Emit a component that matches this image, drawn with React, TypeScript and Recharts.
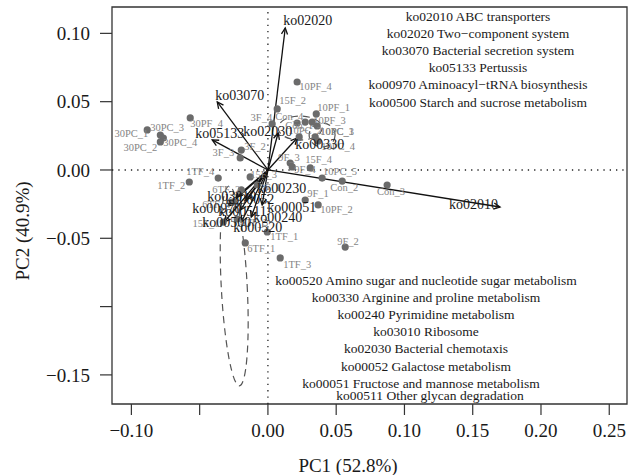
import React from 'react';
import {
  ScatterChart,
  Scatter,
  XAxis,
  YAxis,
  ReferenceLine,
  ReferenceArea,
  Customized,
} from 'recharts';

const FONT = '"Liberation Serif", "DejaVu Serif", serif';

// ---------- data ----------
const sampleNames = [
  '30PC_3', '30PC_1', '30PC_4', '30PC_2', '30PF_4', '1TF_2', '1TF_4', '3F_3', '3F_2',
  '10PF_4', '15F_2', '3F_4', 'Con_4', 'Con_1', '10PF_1', '10PF_3', '10PC_3', '10PC_2',
  '10PC_1', '10PC_4', '15F_4', '10PC_5', 'Con_2', 'Con_3', '9F_1', '10PF_2', '9F_2',
  '1TF_1', '6TF_1', '1TF_3', '6TF_2', '15F_1', '6TF_3', '6TF_4', '15F_3', '3F_1', '9F_3', '9F_4',
];
const sampleX = [
  -0.0884, -0.0788, -0.0766, -0.0788, -0.0569, -0.0576, -0.0364, -0.0203, -0.0195,
  0.0214, 0.0068, 0.0031, 0.0214, 0.0273, 0.0354, 0.0324, 0.0361, 0.0229,
  0.0346, 0.0368, 0.031, 0.0397, 0.0544, 0.0873, 0.0273, 0.0368, 0.0566,
  -0.0005, -0.0166, 0.009, -0.0195, -0.0327, -0.0225, -0.0254, -0.013, -0.0078, 0.0163, 0.0178,
];
const sampleY = [
  0.0293, 0.0256, 0.0234, 0.0205, 0.0381, -0.0088, -0.0059, 0.0088, 0.0146,
  0.0644, 0.0447, 0.0337, 0.0344, 0.0351, 0.041, 0.0351, 0.0322, 0.0242,
  0.0242, 0.0212, 0.0015, -0.0059, -0.0081, -0.011, -0.022, -0.0256, -0.0564,
  -0.0454, -0.0534, -0.0644, -0.0146, -0.0381, -0.0359, -0.0234, -0.0051, -0.011, 0.0051, 0.0022,
];

const loadingNames = [
  'ko02020', 'ko02010', 'ko03070', 'ko05133', 'ko02030', 'ko00330', 'ko00230', 'ko03010',
  'ko00052', 'ko00970', 'ko00511', 'ko00051', 'ko00500', 'ko00240', 'ko00520',
];
const loadingX = [
  0.0127, 0.17, -0.0371, -0.0408, 0.0075, 0.0214, -0.0086, -0.0232,
  -0.0159, -0.0291, -0.0203, -0.0042, -0.032, -0.0122, -0.0195,
];
const loadingY = [
  0.104, -0.0271, 0.0498, 0.022, 0.0271, 0.0234, -0.0117, -0.0198,
  -0.022, -0.0264, -0.0293, -0.0256, -0.0381, -0.0344, -0.0381,
];

const ellipseCx = [-0.0247, 0.0236, 0.0397];
const ellipseCy = [-0.0849, 0.0307, 0.0256];
const ellipseRx = [0.0095, 0.0161, 0.0095];
const ellipseRy = [0.0732, 0.0088, 0.0088];
const ellipseAngle = [-3, 0, 0];

const xTicks = [-0.1, -0.05, 0, 0.05, 0.1, 0.15, 0.2, 0.25];
const xTickLabels = ['\u22120.10', '', '0.00', '0.05', '0.10', '0.15', '0.20', '0.25'];
const yTicks = [-0.15, -0.1, -0.05, 0, 0.05, 0.1];
const yTickLabels = ['\u22120.15', '', '\u22120.05', '0.00', '0.05', '0.10'];

const topLegend = [
  'ko02010 ABC transporters',
  'ko02020 Two\u2212component system',
  'ko03070 Bacterial secretion system',
  'ko05133 Pertussis',
  'ko00970 Aminoacyl\u2212tRNA biosynthesis',
  'ko00500 Starch and sucrose metabolism',
];
const bottomLegend = [
  'ko00520 Amino sugar and nucleotide sugar metabolism',
  'ko00330 Arginine and proline metabolism',
  'ko00240 Pyrimidine metabolism',
  'ko03010 Ribosome',
  'ko02030 Bacterial chemotaxis',
  'ko00052 Galactose metabolism',
  'ko00051 Fructose and mannose metabolism',
  'ko00511 Other glycan degradation',
];

const xLabel = 'PC1 (52.8%)';
const yLabel = 'PC2 (40.9%)';

// ---------- layout (not data) ----------
const W = 629;
const H = 475;
const MARGIN = { top: 7, right: 2, bottom: 31, left: 0 };
const Y_AXIS_W = 112;
const X_AXIS_H = 40;
const X_DOMAIN: [number, number] = [-0.1142, 0.263];
const Y_DOMAIN: [number, number] = [-0.1713, 0.1193];
const PLOT_W = W - MARGIN.left - MARGIN.right - Y_AXIS_W;
const PLOT_H = H - MARGIN.top - MARGIN.bottom - X_AXIS_H;
const PX_X = PLOT_W / (X_DOMAIN[1] - X_DOMAIN[0]);
const PX_Y = PLOT_H / (Y_DOMAIN[1] - Y_DOMAIN[0]);

const sampleLabelPos: Record<string, [number, number, string]> = {
  '30PC_3': [3, -2, 'start'],
  '30PC_1': [-12, -2, 'end'],
  '30PC_4': [0, 4, 'start'],
  '30PC_2': [-3, 6, 'end'],
  '30PF_4': [0, 6, 'start'],
  '1TF_2': [-4, 3, 'end'],
  '1TF_4': [-4, -7, 'end'],
  '3F_3': [-6, -5, 'end'],
  '3F_2': [3, -4, 'start'],
  '10PF_4': [2, 4, 'start'],
  '15F_2': [2, -8, 'start'],
  '3F_4': [0, -6, 'end'],
  'Con_4': [-22, -6, 'start'],
  'Con_1': [-20, 3, 'start'],
  '10PF_1': [1, -6, 'start'],
  '10PF_3': [1, -2, 'start'],
  '10PC_3': [3, 6, 'start'],
  '10PC_2': [-11, -6, 'start'],
  '10PC_1': [5, -5, 'start'],
  '10PC_4': [3, 5, 'start'],
  '15F_4': [-5, -8, 'start'],
  '10PC_5': [1, -7, 'start'],
  'Con_2': [-12, 6, 'start'],
  'Con_3': [-10, 6, 'start'],
  '9F_1': [2, -7, 'start'],
  '10PF_2': [2, 5, 'start'],
  '9F_2': [-8, -6, 'start'],
  '1TF_1': [3, 4, 'start'],
  '6TF_1': [2, 6, 'start'],
  '1TF_3': [3, 7, 'start'],
  '6TF_2': [-1, 0, 'end'],
  '15F_1': [-4, 1, 'end'],
  '6TF_3': [3, 3, 'start'],
  '6TF_4': [-3, 3, 'end'],
  '15F_3': [0, -2, 'start'],
  '3F_1': [2, 2, 'start'],
  '9F_3': [-12, -6, 'start'],
  '9F_4': [2, 3, 'start'],
};

const loadingLabelPos: Record<string, [number, number, string]> = {
  ko02020: [-2, -7, 'start'],
  ko02010: [-2, -3, 'end'],
  ko03070: [-2, -6, 'start'],
  ko05133: [-17, -6, 'start'],
  ko02030: [-35, -1, 'start'],
  ko00330: [-2, 6, 'start'],
  ko00230: [1, 3, 'start'],
  ko03010: [-29, -1, 'start'],
  ko00052: [-21, -1, 'start'],
  ko00970: [-36, 2, 'start'],
  ko00511: [-22, 1, 'start'],
  ko00051: [5, 3, 'start'],
  ko00500: [-22, 0, 'start'],
  ko00240: [2, 1, 'start'],
  ko00520: [-8, 5, 'start'],
};

const samples = sampleNames.map((name, i) => ({ name, x: sampleX[i], y: sampleY[i] }));
const loadings = loadingNames.map((name, i) => ({ name, x: loadingX[i], y: loadingY[i] }));
const ellipses = ellipseCx.map((cx, i) => ({
  x: cx,
  y: ellipseCy[i],
  rx: ellipseRx[i],
  ry: ellipseRy[i],
  angle: ellipseAngle[i],
}));

const SampleShape = (props: any) => {
  const { cx, cy, payload } = props;
  if (cx == null || cy == null) return null;
  const pos = sampleLabelPos[payload.name] || [3, 3, 'start'];
  return (
    <g>
      <circle cx={cx} cy={cy} r={3.6} fill="#6b6b6b" />
      <text
        x={cx + pos[0]}
        y={cy + pos[1]}
        textAnchor={pos[2] as any}
        dominantBaseline="central"
        fontFamily={FONT}
        fontSize={10.5}
        fill="#858585"
      >
        {payload.name}
      </text>
    </g>
  );
};

const LoadingLabelShape = (props: any) => {
  const { cx, cy, payload } = props;
  if (cx == null || cy == null) return null;
  const pos = loadingLabelPos[payload.name] || [2, 0, 'start'];
  return (
    <text
      x={cx + pos[0]}
      y={cy + pos[1]}
      textAnchor={pos[2] as any}
      dominantBaseline="central"
      fontFamily={FONT}
      fontSize={14}
      fill="#1a1a1a"
    >
      {payload.name}
    </text>
  );
};

const EllipseShape = (props: any) => {
  const { cx, cy, payload } = props;
  if (cx == null || cy == null) return null;
  return (
    <ellipse
      cx={cx}
      cy={cy}
      rx={payload.rx * PX_X}
      ry={payload.ry * PX_Y}
      transform={`rotate(${payload.angle} ${cx} ${cy})`}
      fill="none"
      stroke="#555"
      strokeWidth={1.2}
      strokeDasharray="7 5"
    />
  );
};

const ArrowShape = (props: any) => {
  const { x1, y1, x2, y2 } = props;
  if ([x1, y1, x2, y2].some((v) => v == null || Number.isNaN(v))) return null;
  const ang = Math.atan2(y2 - y1, x2 - x1);
  const L = 7;
  const a = Math.PI / 7;
  const hx1 = x2 - L * Math.cos(ang - a);
  const hy1 = y2 - L * Math.sin(ang - a);
  const hx2 = x2 - L * Math.cos(ang + a);
  const hy2 = y2 - L * Math.sin(ang + a);
  return (
    <g>
      <line x1={x1} y1={y1} x2={x2} y2={y2} stroke="#111" strokeWidth={1.3} />
      <polyline
        points={`${hx1},${hy1} ${x2},${y2} ${hx2},${hy2}`}
        fill="none"
        stroke="#111"
        strokeWidth={1.3}
      />
    </g>
  );
};

const Annotations = () => (
  <g fontFamily={FONT}>
    {topLegend.map((t, i) => (
      <text
        key={t}
        x={478}
        y={16 + i * 17.2}
        textAnchor="middle"
        dominantBaseline="central"
        fontSize={13.5}
        fill="#1a1a1a"
      >
        {t}
      </text>
    ))}
    {bottomLegend.map((t, i) => (
      <text
        key={t}
        x={i === 7 ? 430 : i === 6 ? 421 : 426}
        y={i < 7 ? 280 + i * 17.2 : 395}
        textAnchor="middle"
        dominantBaseline="central"
        fontSize={13.5}
        fill="#1a1a1a"
      >
        {t}
      </text>
    ))}
    <text x={348} y={465} textAnchor="middle" dominantBaseline="central" fontSize={19} fill="#1a1a1a">
      {xLabel}
    </text>
    <text
      x={22}
      y={231}
      textAnchor="middle"
      dominantBaseline="central"
      fontSize={19}
      fill="#1a1a1a"
      transform="rotate(-90 22 231)"
    >
      {yLabel}
    </text>
  </g>
);

export default function App() {
  return (
    <div style={{ position: 'absolute', left: 0, top: 0, width: W, height: H, background: '#fff' }}>
      <ScatterChart width={W} height={H} margin={MARGIN}>
        <XAxis
          type="number"
          dataKey="x"
          domain={X_DOMAIN}
          allowDataOverflow
          ticks={xTicks}
          tickFormatter={(v: number) => xTickLabels[xTicks.findIndex((t) => Math.abs(t - v) < 1e-9)] ?? ''}
          tickSize={11}
          tickMargin={9}
          height={X_AXIS_H}
          axisLine={false}
          tickLine={{ stroke: '#333', strokeWidth: 1.2 }}
          tick={{ fontSize: 19, fontFamily: FONT, fill: '#1a1a1a' }}
          interval={0}
        />
        <YAxis
          type="number"
          dataKey="y"
          domain={Y_DOMAIN}
          allowDataOverflow
          ticks={yTicks}
          tickFormatter={(v: number) => yTickLabels[yTicks.findIndex((t) => Math.abs(t - v) < 1e-9)] ?? ''}
          tickSize={12}
          tickMargin={10}
          width={Y_AXIS_W}
          axisLine={false}
          tickLine={{ stroke: '#333', strokeWidth: 1.2 }}
          tick={{ fontSize: 19, fontFamily: FONT, fill: '#1a1a1a' }}
          interval={0}
        />
        <ReferenceArea
          x1={X_DOMAIN[0]}
          x2={X_DOMAIN[1]}
          y1={Y_DOMAIN[0]}
          y2={Y_DOMAIN[1]}
          fill="none"
          fillOpacity={0}
          stroke="#333"
          strokeWidth={1.3}
        />
        <ReferenceLine x={0} stroke="#222" strokeWidth={1.3} strokeDasharray="1.3 5" />
        <ReferenceLine y={0} stroke="#222" strokeWidth={1.3} strokeDasharray="1.3 5" />
        <Scatter data={ellipses} shape={EllipseShape} isAnimationActive={false} />
        <Scatter data={samples} shape={SampleShape} isAnimationActive={false} />
        {loadings.map((d) => (
          <ReferenceLine
            key={d.name}
            segment={[
              { x: 0, y: 0 },
              { x: d.x, y: d.y },
            ]}
            shape={ArrowShape}
          />
        ))}
        <Scatter data={loadings} shape={LoadingLabelShape} isAnimationActive={false} />
        <Customized component={Annotations} />
      </ScatterChart>
    </div>
  );
}
